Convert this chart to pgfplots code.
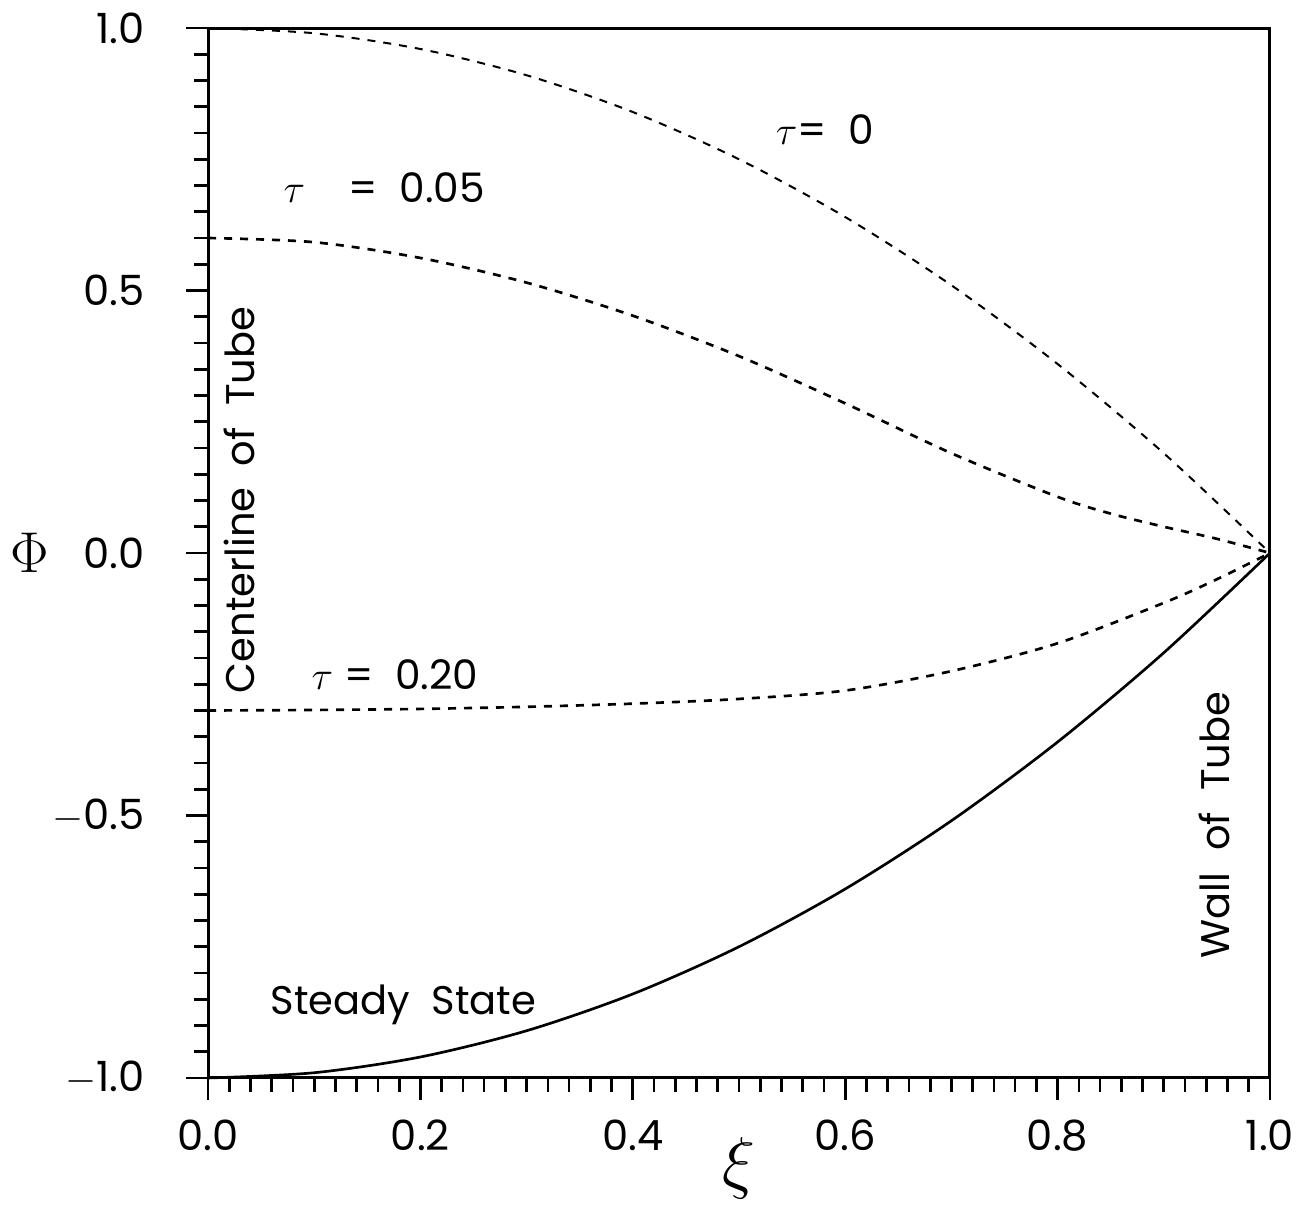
\documentclass[border=0pt]{standalone}
\usepackage{pgfplots}
\pgfplotsset{compat=1.18}
\usepackage{fontspec}
\setmainfont{Poppins}

\begin{document}
\begin{tikzpicture}
\begin{axis}[
    name=ax,
    scale only axis,
    width=318.6pt, height=315pt,
    xmin=0, xmax=1, ymin=-1, ymax=1,
    xtick={0,0.2,0.4,0.6,0.8,1.0},
    xticklabels={0.0,0.2,0.4,0.6,0.8,1.0},
    ytick={-1,-0.5,0,0.5,1},
    yticklabels={$-$1.0,$-$0.5,0.0,0.5,1.0},
    minor x tick num=9, minor y tick num=9,
    tick align=outside,
    xtick pos=left, ytick pos=left,
    major tick length=6.5pt, minor tick length=4.2pt,
    every tick/.style={black, line width=0.8pt},
    axis line style={line width=0.9pt},
    tick label style={font=\fontsize{12.5}{14}\selectfont},
    xticklabel style={yshift=-2.5pt},
    yticklabel style={xshift=-9pt},
    clip=false,
    ]
    % tau = 0
    \addplot[black, line width=0.6pt, smooth, dash pattern=on 2.4pt off 2.4pt] coordinates {
        (0,1.0) (0.1,0.99) (0.2,0.96) (0.3,0.91) (0.4,0.84) (0.5,0.75)
        (0.6,0.64) (0.7,0.51) (0.8,0.36) (0.9,0.19) (1.0,0)
    };
    % tau = 0.05
    \addplot[black, line width=0.8pt, smooth, dash pattern=on 2.4pt off 2.4pt] coordinates {
        (0,0.60) (0.1,0.592) (0.2,0.562) (0.3,0.515) (0.4,0.452) (0.5,0.375)
        (0.6,0.285) (0.7,0.19) (0.8,0.107) (0.85,0.075) (0.9,0.05) (0.95,0.027) (1.0,0)
    };
    % tau = 0.20
    \addplot[black, line width=0.8pt, smooth, dash pattern=on 2.4pt off 2.4pt] coordinates {
        (0,-0.30) (0.1,-0.299) (0.2,-0.297) (0.3,-0.293) (0.4,-0.287) (0.5,-0.278)
        (0.6,-0.262) (0.7,-0.225) (0.8,-0.172) (0.9,-0.095) (0.95,-0.05) (1.0,0)
    };
    % steady state
    \addplot[black, line width=0.8pt, smooth] coordinates {
        (0,-1) (0.1,-0.99) (0.2,-0.96) (0.3,-0.91) (0.4,-0.84) (0.5,-0.75)
        (0.6,-0.64) (0.7,-0.51) (0.8,-0.36) (0.9,-0.19) (1.0,0)
    };

    \node[font=\fontsize{12.2}{13}\selectfont] at (axis cs:0.581,0.806) {$\tau$=\ \ 0};
    \node[font=\fontsize{12.2}{13}\selectfont] at (axis cs:0.166,0.695) {$\tau$\ \ \ \ =\ \ 0.05};
    \node[font=\fontsize{12.2}{13}\selectfont] at (axis cs:0.176,-0.232) {$\tau$\ =\ \ 0.20};
    \node[font=\fontsize{12}{13}\selectfont] at (axis cs:0.184,-0.861) {Steady\ \ State};
    \node[font=\fontsize{12}{13}\selectfont, rotate=90] at (axis cs:0.030,0.101) {Centerline\ \ of\ \ Tube};
    \node[font=\fontsize{12}{13}\selectfont, rotate=90] at (axis cs:0.948,-0.518) {Wall\ \ of\ \ Tube};

    \node[font=\fontsize{19}{19}\selectfont] at (rel axis cs:-0.168,0.5) {$\Phi$};
    \node[font=\fontsize{20}{20}\selectfont] at (rel axis cs:0.5,-0.086) {$\xi$};

    \coordinate (bbSW) at (rel axis cs:-0.1959,-0.1267);
    \coordinate (bbNE) at (rel axis cs:1.0311,1.0267);
\end{axis}
\pgfresetboundingbox
\path[use as bounding box] (bbSW) rectangle (bbNE);
\end{tikzpicture}
\end{document}
